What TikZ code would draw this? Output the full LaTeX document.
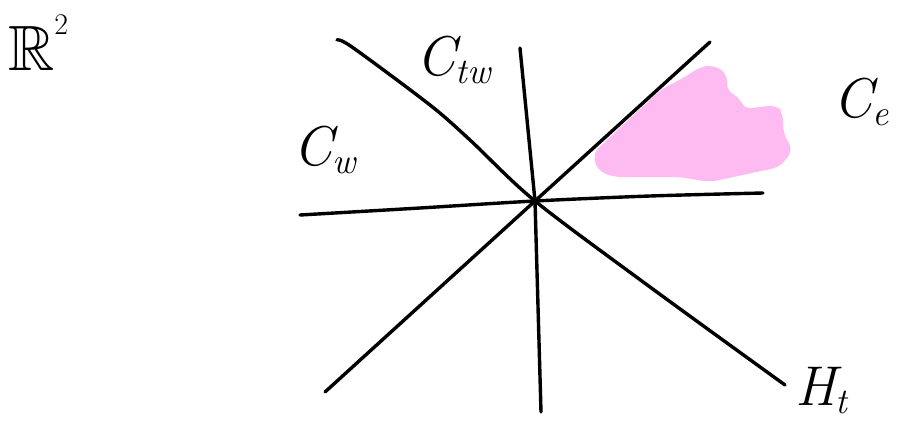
\documentclass[tikz,border=0pt]{standalone}
\usepackage{amssymb}
\usepackage{fontspec}
\setmainfont{Latin Modern Roman}
\newcommand{\subtxt}[1]{\raisebox{-0.15em}{\fontsize{36}{38}\selectfont #1}}
\begin{document}
\begin{tikzpicture}[x=1pt,y=-1pt,
  stroke/.style={line width=3.4pt,line cap=round,line join=round},
  lbl/.style={inner sep=0pt, anchor=base west, font=\fontsize{56}{60}\selectfont\itshape}]
\useasboundingbox (0,0) rectangle (904,423);
\definecolor{blobpink}{RGB}{253,187,242}
% pink region
\fill[blobpink,rounded corners=8pt] (593,153) -- (597,170) -- (613,177) -- (647,177) -- (680,177) -- (710,182) -- (780,167) -- (793,150) -- (783,133) -- (783,113) -- (777,105) -- (743,109) -- (740,97) -- (727,92) -- (727,73) -- (713,65) -- (700,67) -- (680,80) -- (663,88) -- (653,97) -- cycle;
\coordinate (o) at (535,201);
\coordinate (nw) at (337,40);
\coordinate (se) at (785,385);
\coordinate (sw) at (325,392);
\coordinate (ne) at (710,42);
\coordinate (w) at (300,215);
\coordinate (e) at (763,193);
\coordinate (n) at (520,48);
\coordinate (s) at (541,412);
\draw[stroke] plot[smooth,tension=0.5] coordinates {(nw) (352,47) (430,105) (470,140) (o) (650,287) (se)};
\draw[stroke] (sw) -- (o) -- (ne);
\draw[stroke] plot[smooth,tension=0.5] coordinates {(w) (420,208) (o) (650,196) (e)};
\draw[stroke] (n) -- (o) -- (s);
\node[lbl,font=\fontsize{64}{66}\selectfont] (r2) at (8,70) {$\mathbb{R}$\raisebox{0.55em}{\fontsize{30}{30}\selectfont 2}};
\node[lbl] (ctw) at (416,75) {C\subtxt{tw}};
\node[lbl] (cw) at (293,165) {C\subtxt{w}};
\node[lbl] (ce) at (833,117) {C\subtxt{e}};
\node[lbl] (ht) at (795,405) {H\subtxt{t}};
\end{tikzpicture}
\end{document}
